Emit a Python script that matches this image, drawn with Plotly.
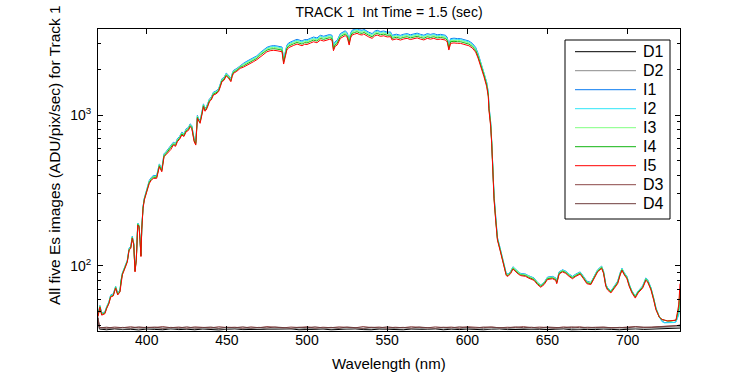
import plotly.graph_objects as go

# ---------------- data ----------------
WAVELENGTH = [
    369.6, 370.8, 371.9, 373.9, 375.0, 376.4, 377.5, 379.1, 380.6, 381.9,
    383.3, 383.9, 384.8, 386.4, 387.9, 389.0, 390.0, 391.0, 391.9, 392.7,
    393.5, 394.4, 395.2, 395.8, 396.4, 396.9, 397.7, 398.5, 399.4, 400.4,
    401.6, 402.8, 404.1, 406.2, 407.9, 409.4, 410.8, 412.0, 413.5, 415.0,
    416.6, 418.0, 419.1, 420.5, 421.9, 423.2, 424.6, 426.0, 427.1, 428.1,
    429.6, 430.6, 431.6, 432.5, 433.3, 434.4, 435.4, 436.3, 437.1, 438.2,
    439.1, 440.3, 441.6, 443.2, 444.8, 445.9, 446.9, 448.2, 449.6, 451.0,
    452.5, 453.3, 454.1, 456.2, 458.3, 460.4, 462.5, 464.5, 466.6, 468.7,
    470.8, 472.9, 475.0, 477.0, 479.2, 481.3, 483.0, 484.4, 485.4, 486.4,
    487.4, 488.5, 489.6, 491.7, 493.8, 495.3, 496.9, 498.5, 500.0, 502.0,
    504.1, 506.2, 508.3, 510.4, 512.5, 514.0, 515.6, 516.5, 517.5, 518.8,
    520.8, 522.4, 523.9, 525.2, 526.3, 527.2, 528.1, 529.6, 531.2, 532.8,
    534.4, 535.4, 536.4, 538.5, 540.6, 542.2, 543.8, 545.8, 547.9, 550.0,
    552.1, 553.1, 555.7, 558.3, 560.4, 562.5, 564.5, 566.6, 568.7, 570.8,
    572.9, 575.0, 577.0, 579.1, 581.2, 583.3, 585.0, 586.4, 587.5, 588.5,
    589.6, 591.7, 593.8, 595.8, 597.9, 599.5, 601.0, 603.1, 605.2, 606.7,
    607.9, 608.8, 610.4, 612.1, 613.1, 613.5, 614.6, 615.2, 615.8, 616.7,
    617.7, 618.8, 620.4, 621.9, 623.3, 624.3, 625.4, 627.1, 628.5, 630.2,
    631.8, 633.3, 636.4, 638.0, 639.6, 641.6, 643.8, 645.8, 647.9, 650.0,
    653.1, 655.2, 655.8, 657.3, 659.4, 661.4, 663.5, 665.6, 667.7, 670.4,
    672.5, 674.6, 677.1, 679.1, 681.3, 683.8, 685.0, 686.4, 687.5, 689.6,
    691.7, 693.8, 695.4, 696.5, 697.9, 699.6, 701.0, 702.7, 704.8, 706.6,
    709.4, 711.4, 712.5, 714.6, 716.3, 717.7, 719.8, 721.5, 723.0, 725.0,
    727.1, 729.0, 730.2, 731.9, 732.7,
]

I1 = [
    47, 54.5, 48.5, 49.5, 53.5, 57.5, 64, 65, 73, 66,
    69, 80, 89.5, 99, 109, 131, 134, 157, 141, 94,
    112, 192, 186, 152, 118, 178, 247, 281, 303, 332,
    368, 385, 397, 397, 474, 439, 553, 570, 597, 617,
    660, 648, 695, 721, 770, 752, 810, 826, 874, 853,
    695, 660, 994, 941, 921, 1045, 1186, 1108, 1128, 1202,
    1280, 1317, 1419, 1442, 1492, 1609, 1739, 1777, 1897, 1839,
    1739, 1881, 1976, 2038, 2133, 2205, 2277, 2332, 2395, 2470,
    2595, 2690, 2815, 2865, 2890, 2870, 2848, 2827, 2343, 2687,
    2903, 3007, 3053, 3118, 3180, 3139, 3100, 3171, 3158, 3225,
    3294, 3247, 3382, 3333, 3382, 3419, 3382, 2872, 3064, 3133,
    3470, 3548, 3625, 3494, 3133, 3494, 3651, 3698, 3745, 3677,
    3651, 3709, 3651, 3548, 3470, 3601, 3651, 3580, 3610, 3548,
    3559, 3382, 3440, 3382, 3440, 3470, 3408, 3470, 3494, 3431,
    3386, 3470, 3429, 3470, 3408, 3431, 3419, 3382, 3279, 2903,
    3216, 3236, 3216, 3214, 3166, 3139, 3100, 2993, 2814, 2568,
    2332, 2229, 1921, 1650, 1415, 1155, 895, 694, 486, 292,
    210, 154, 132, 113, 99.5, 89, 88, 92, 98.5, 94,
    91, 89, 88, 86, 85, 83, 77.5, 74.5, 77.5, 84,
    85, 83, 79, 91, 94, 92, 88, 85, 88, 91,
    85, 79, 77.5, 85, 94, 99.5, 92, 75.5, 71.5, 68,
    73.5, 79, 90, 96, 90, 85, 75.5, 68, 63, 68,
    73.5, 83, 81, 71.5, 61, 52.5, 46, 43, 42, 42,
    42, 42, 42.5, 48, 60,
]

I2 = [
    47, 54, 48, 49, 53, 57.5, 63.5, 64.5, 72.5, 65.5,
    68.5, 80, 89, 98.5, 108.5, 130, 133, 156, 140, 93,
    112, 191, 185, 152, 118, 177, 246, 280, 301, 329,
    364, 381, 393, 393, 470, 435, 548, 564, 591, 611,
    654, 642, 688, 714, 763, 745, 802, 818, 865, 845,
    688, 654, 984, 932, 912, 1035, 1175, 1097, 1117, 1190,
    1268, 1304, 1406, 1428, 1478, 1594, 1722, 1760, 1879, 1822,
    1722, 1863, 1957, 2018, 2112, 2184, 2255, 2310, 2372, 2447,
    2575, 2665, 2785, 2830, 2850, 2832, 2809, 2788, 2311, 2650,
    2862, 2965, 3010, 3074, 3135, 3095, 3057, 3127, 3114, 3180,
    3248, 3201, 3335, 3286, 3335, 3371, 3335, 2832, 3021, 3089,
    3422, 3498, 3574, 3445, 3089, 3445, 3600, 3646, 3693, 3625,
    3600, 3657, 3600, 3498, 3422, 3551, 3600, 3530, 3559, 3498,
    3510, 3335, 3392, 3335, 3392, 3422, 3360, 3422, 3445, 3384,
    3339, 3422, 3381, 3422, 3360, 3384, 3371, 3335, 3233, 2862,
    3172, 3191, 3172, 3169, 3122, 3095, 3057, 2951, 2775, 2532,
    2311, 2208, 1903, 1635, 1401, 1144, 886, 688, 481, 289,
    208, 153, 131, 112, 99, 88.5, 87.5, 91.5, 98, 94,
    90.5, 88.5, 87.5, 85.5, 84.5, 82.5, 77, 74, 77, 83.5,
    84.5, 82.5, 78, 90.5, 94, 91.5, 87.5, 84.5, 87.5, 90.5,
    84.5, 78, 77, 84.5, 94, 99, 91.5, 75, 71, 68,
    73, 78, 89.5, 96, 89.5, 84.5, 75, 68, 63, 68,
    73, 82.5, 80.5, 71, 60.5, 52.5, 45.5, 42.5, 41.8, 41.8,
    41.8, 42, 42.5, 47, 58,
]

I3 = [
    47, 54, 48, 49, 53, 57, 63, 64, 72.5, 65,
    68.5, 79.5, 89, 98, 108, 129.5, 132.5, 155, 140, 93,
    111, 190, 185, 151, 117, 176, 245, 278, 300, 328,
    363, 379, 391, 391, 468, 433, 545, 561, 588, 608,
    651, 639, 685, 711, 759, 742, 798, 814, 861, 840,
    685, 651, 980, 927, 907, 1030, 1169, 1092, 1111, 1185,
    1262, 1298, 1399, 1421, 1471, 1586, 1714, 1751, 1869, 1813,
    1714, 1854, 1948, 2009, 2102, 2163, 2234, 2288, 2349, 2423,
    2547, 2633, 2748, 2792, 2811, 2792, 2769, 2748, 2278, 2613,
    2822, 2923, 2968, 3031, 3091, 3051, 3014, 3083, 3070, 3135,
    3202, 3156, 3288, 3240, 3288, 3323, 3288, 2792, 2978, 3045,
    3373, 3449, 3524, 3396, 3045, 3396, 3549, 3595, 3641, 3574,
    3549, 3605, 3549, 3449, 3373, 3501, 3549, 3480, 3509, 3449,
    3460, 3288, 3344, 3288, 3344, 3373, 3313, 3373, 3396, 3336,
    3292, 3373, 3334, 3373, 3313, 3336, 3323, 3288, 3187, 2822,
    3127, 3145, 3127, 3125, 3078, 3051, 3014, 2909, 2736, 2497,
    2278, 2177, 1876, 1611, 1381, 1128, 874, 678, 474, 285,
    207, 152, 130, 112, 98.5, 88, 87, 91, 97.5, 93.5,
    90, 88, 87, 85, 84, 82, 77, 74, 77, 83,
    84, 82, 78, 90, 93, 91, 87, 84, 87, 90,
    84, 78, 77, 84, 93, 98.5, 91, 75, 70.5, 67.5,
    73, 78, 89, 95, 89, 84, 75, 67.5, 62.5, 67.5,
    72.5, 82, 80, 70.5, 60.5, 52, 46, 44, 43.5, 43,
    43, 43, 43.5, 50, 65,
]

I4 = [
    46.5, 53.5, 47.5, 48.5, 52.5, 56.5, 62.5, 63.5, 71.5, 64.5,
    67.5, 79, 88, 97, 107, 128, 131, 153.5, 138.5, 92,
    110, 188, 183, 149, 116, 175, 242, 276, 297, 323,
    357, 374, 386, 386, 461, 426, 537, 553, 580, 599,
    641, 629, 675, 700, 748, 731, 787, 802, 849, 828,
    675, 641, 965, 914, 894, 1015, 1152, 1076, 1095, 1167,
    1243, 1279, 1378, 1401, 1449, 1563, 1689, 1726, 1842, 1786,
    1689, 1827, 1919, 1979, 2072, 2122, 2191, 2244, 2304, 2377,
    2498, 2583, 2696, 2739, 2757, 2739, 2716, 2696, 2235, 2563,
    2768, 2867, 2911, 2973, 3032, 2993, 2956, 3024, 3011, 3075,
    3141, 3096, 3225, 3178, 3225, 3260, 3225, 2739, 2921, 2987,
    3309, 3383, 3456, 3331, 2987, 3331, 3481, 3526, 3571, 3506,
    3481, 3536, 3481, 3383, 3309, 3434, 3481, 3413, 3442, 3383,
    3394, 3225, 3280, 3225, 3280, 3309, 3249, 3309, 3331, 3272,
    3229, 3309, 3270, 3309, 3249, 3272, 3260, 3225, 3126, 2768,
    3067, 3085, 3067, 3065, 3019, 2993, 2956, 2854, 2683, 2449,
    2235, 2135, 1840, 1581, 1355, 1106, 857, 665, 465, 280,
    204, 150, 128.5, 110, 97, 87, 86, 90, 96, 92,
    89, 87, 86, 84, 83, 81, 76, 73, 76, 82,
    83, 81, 77, 89, 92, 90, 86, 83, 86, 89,
    83, 77, 76, 83, 92, 97, 90, 74, 70, 67,
    72, 77, 88, 94, 88, 83, 74, 67, 62, 67,
    72, 81, 79, 70, 60, 51.5, 45.5, 44, 43.5, 43,
    43, 43.5, 43.5, 52, 70,
]

I5 = [
    46, 53, 47, 48, 52, 56, 62, 63, 71, 64,
    67, 78, 87, 96, 106, 127, 130, 152, 137, 91,
    109, 186, 181, 148, 115, 173, 240, 273, 294, 318,
    352, 368, 380, 380, 454, 420, 529, 545, 571, 590,
    632, 620, 665, 690, 737, 720, 775, 790, 836, 816,
    665, 632, 951, 900, 881, 1000, 1135, 1060, 1079, 1150,
    1225, 1260, 1358, 1380, 1428, 1540, 1664, 1700, 1815, 1760,
    1664, 1800, 1891, 1950, 2041, 2080, 2148, 2200, 2259, 2330,
    2437, 2520, 2630, 2672, 2690, 2672, 2650, 2630, 2180, 2500,
    2700, 2797, 2840, 2900, 2958, 2920, 2884, 2950, 2938, 3000,
    3064, 3020, 3146, 3100, 3146, 3180, 3146, 2672, 2850, 2914,
    3228, 3300, 3372, 3250, 2914, 3250, 3396, 3440, 3484, 3420,
    3396, 3450, 3396, 3300, 3228, 3350, 3396, 3330, 3358, 3300,
    3311, 3146, 3200, 3146, 3200, 3228, 3170, 3228, 3250, 3192,
    3150, 3228, 3190, 3228, 3170, 3192, 3180, 3146, 3050, 2700,
    2992, 3010, 2992, 2990, 2945, 2920, 2884, 2784, 2618, 2389,
    2180, 2083, 1795, 1542, 1322, 1079, 836, 649, 454, 273,
    201, 148, 127, 109, 96, 86, 85, 89, 95, 91,
    88, 86, 85, 83, 82, 80, 75, 72, 75, 81,
    82, 80, 76, 88, 91, 89, 85, 82, 85, 88,
    82, 76, 75, 82, 91, 96, 89, 73, 69, 66,
    71, 76, 87, 93, 87, 82, 73, 66, 61, 66,
    71, 80, 78, 69, 59, 51, 45.5, 44, 43.6, 43,
    43.2, 43.5, 43.6, 55, 76,
]

DARK_WAVELENGTH = [
    369.6, 370.5, 375, 380, 385, 390, 395, 400, 405, 410,
    415, 420, 425, 430, 435, 440, 445, 450, 455, 460,
    465, 470, 475, 480, 485, 490, 495, 500, 505, 510,
    515, 520, 525, 530, 535, 540, 545, 550, 555, 560,
    565, 570, 575, 580, 585, 590, 595, 600, 605, 610,
    615, 620, 625, 630, 635, 640, 645, 650, 655, 660,
    665, 670, 675, 680, 685, 690, 695, 700, 705, 710,
    715, 720, 725, 730, 732.7,
]

D1 = [
    44, 38.0, 37.6, 38.1, 37.7, 37.9, 37.5, 38.0, 37.8, 37.6,
    38.1, 37.7, 37.9, 37.6, 38.0, 37.8, 37.5, 37.9, 38.1, 37.7,
    37.8, 37.6, 38.0, 37.7, 37.9, 38.1, 37.6, 37.8, 37.7, 38.0,
    37.6, 37.9, 37.8, 38.1, 37.7, 37.6, 38.0, 37.8, 37.9, 37.6,
    38.0, 37.7, 37.8, 38.1, 37.6, 37.9, 37.7, 38.0, 37.8, 37.6,
    37.9, 38.1, 37.7, 37.8, 37.6, 38.0, 37.9, 37.7, 37.8, 38.1,
    37.6, 37.9, 37.8, 37.7, 38.0, 37.8, 37.6, 37.9, 38.1, 37.8,
    37.9, 38.0, 38.2, 38.4, 38.6,
]

D2 = [
    46, 38.6, 38.2, 38.5, 38.0, 38.4, 38.7, 38.1, 38.3, 38.6,
    38.0, 38.4, 38.2, 38.7, 38.1, 38.5, 38.3, 38.0, 38.6, 38.2,
    38.4, 38.7, 38.1, 38.3, 38.5, 38.0, 38.6, 38.2, 38.4, 38.1,
    38.7, 38.3, 38.0, 38.5, 38.2, 38.6, 38.3, 38.1, 38.4, 38.7,
    38.2, 38.5, 38.0, 38.3, 38.6, 38.1, 38.4, 38.2, 38.7, 38.3,
    38.0, 38.5, 38.2, 38.6, 38.3, 38.1, 38.4, 38.7, 38.2, 38.5,
    38.3, 38.0, 38.6, 38.4, 38.2, 38.5, 38.7, 38.3, 38.4, 38.6,
    38.5, 38.8, 39.0, 39.2, 39.5,
]

D3 = [
    45, 39.0, 38.6, 39.2, 38.8, 39.4, 38.7, 39.1, 38.9, 39.5,
    38.8, 39.2, 38.6, 39.3, 39.0, 38.7, 39.4, 38.9, 39.1, 38.6,
    39.3, 38.8, 39.5, 39.0, 38.7, 39.2, 38.9, 39.4, 38.6, 39.1,
    38.8, 39.3, 39.0, 38.7, 39.5, 38.9, 39.2, 38.6, 39.1, 38.8,
    39.4, 39.0, 38.7, 39.3, 38.9, 39.2, 38.6, 39.4, 39.0, 38.8,
    39.3, 38.7, 39.1, 38.9, 39.5, 38.8, 39.2, 39.0, 38.6, 39.3,
    38.9, 39.4, 38.7, 39.1, 39.0, 39.3, 38.8, 39.2, 39.5, 38.9,
    39.2, 39.5, 39.6, 39.8, 40.2,
]

D4 = [
    45, 38.7, 39.1, 38.5, 39.0, 38.6, 39.3, 38.8, 39.2, 38.5,
    39.0, 38.7, 39.3, 38.6, 38.9, 39.2, 38.5, 39.1, 38.8, 39.3,
    38.6, 39.0, 38.7, 39.2, 38.9, 38.5, 39.1, 38.8, 39.3, 38.7,
    39.0, 38.6, 39.2, 38.9, 38.5, 39.1, 38.7, 39.3, 38.8, 39.0,
    38.6, 39.2, 38.9, 38.5, 39.1, 38.7, 39.3, 38.8, 38.6, 39.2,
    38.9, 39.0, 38.7, 39.3, 38.8, 39.1, 38.6, 39.2, 39.0, 38.7,
    39.3, 38.8, 39.1, 38.9, 39.2, 38.7, 39.0, 38.8, 39.3, 39.1,
    39.0, 39.4, 39.6, 39.9, 40.4,
]

SERIES = [
    ("D1", DARK_WAVELENGTH, D1, "#000000"),
    ("D2", DARK_WAVELENGTH, D2, "#8c8c8c"),
    ("I1", WAVELENGTH, I1, "#0a7cf0"),
    ("I2", WAVELENGTH, I2, "#2ee6f8"),
    ("I3", WAVELENGTH, I3, "#80ff80"),
    ("I4", WAVELENGTH, I4, "#12b412"),
    ("I5", WAVELENGTH, I5, "#ff0000"),
    ("D3", DARK_WAVELENGTH, D3, "#8c4848"),
    ("D4", DARK_WAVELENGTH, D4, "#6e3c3c"),
]

for name, xs, ys, _ in SERIES:
    if len(xs) != len(ys):
        raise ValueError(f"{name}: {len(xs)} x vs {len(ys)} y")

Y_TICKS = [100, 1000]
Y_TICK_TEXT = ["10<sup>2</sup>", "10<sup>3</sup>"]
Y_MINOR = [40, 50, 60, 70, 80, 90, 200, 300, 400, 500, 600, 700, 800, 900, 2000, 3000]
X_TICKS = [400, 450, 500, 550, 600, 650, 700]

# ---------------- figure ----------------
FONT = "Liberation Sans, Arial, sans-serif"
W, H = 750, 375
L, R, T, B = 98, 70, 29, 44
pw, ph = W - L - R, H - T - B


def px(xp):
    return (xp - L) / pw


def py(yp):
    return (H - B - yp) / ph


fig = go.Figure()
for name, xs, ys, color in SERIES:
    fig.add_trace(go.Scatter(x=xs, y=ys, mode="lines", name=name,
                             line=dict(color=color, width=1)))

fig.update_layout(
    width=W, height=H,
    margin=dict(l=L, r=R, t=T, b=B, autoexpand=False),
    paper_bgcolor="white", plot_bgcolor="white",
    font=dict(family=FONT, size=14, color="black"),
    title=dict(text="TRACK 1  Int Time = 1.5 (sec)", x=(L + pw / 2) / W, xanchor="center",
               y=1 - 12 / H, yanchor="middle", font=dict(size=14)),
    showlegend=False,
)

fig.update_xaxes(
    range=[369.6, 732.7], showgrid=False, zeroline=False, automargin=False,
    showline=True, linecolor="black", linewidth=1, mirror="ticks",
    ticks="inside", ticklen=5, tickcolor="black",
    tickvals=X_TICKS, ticklabelstandoff=-4,
)
fig.update_yaxes(
    type="log", range=[1.567, 3.571], showgrid=False, zeroline=False, automargin=False,
    showline=True, linecolor="black", linewidth=1, mirror="ticks",
    ticks="inside", ticklen=5, tickcolor="black",
    tickvals=Y_TICKS, ticktext=Y_TICK_TEXT, ticklabelstandoff=3,
    minor=dict(tickvals=Y_MINOR, ticks="inside", ticklen=3, tickcolor="black", showgrid=False),
)

# axis titles
fig.add_annotation(
    text="Wavelength (nm)", xref="paper", yref="paper", x=px(389), y=py(363),
    xanchor="center", yanchor="middle", showarrow=False, font=dict(size=15),
)
fig.add_annotation(
    text="All five Es images (ADU/pix/sec) for Track 1", textangle=-90,
    xref="paper", yref="paper", x=px(54), y=py(155),
    xanchor="center", yanchor="middle", showarrow=False, font=dict(size=15.5),
)

# legend box drawn like the original figure's legend
LEG_X0, LEG_X1, LEG_Y0, LEG_Y1 = 565, 670, 40, 219
ROW0, ROW_STEP = 51.7, 19.0
fig.add_shape(type="rect", xref="paper", yref="paper",
              x0=px(LEG_X0), x1=px(LEG_X1), y0=py(LEG_Y1), y1=py(LEG_Y0),
              line=dict(color="black", width=1), fillcolor="white", layer="above")
for i, (name, _, _, color) in enumerate(SERIES):
    yrow = ROW0 + ROW_STEP * i
    fig.add_shape(type="line", xref="paper", yref="paper",
                  x0=px(575), x1=px(636), y0=py(yrow), y1=py(yrow),
                  line=dict(color=color, width=1), layer="above")
    fig.add_annotation(text=name, xref="paper", yref="paper", x=px(641), y=py(yrow),
                       xanchor="left", yanchor="middle", showarrow=False,
                       font=dict(size=16))

fig.write_html("out.html", config={"displayModeBar": False},
               post_script="document.body.style.margin='0';document.body.style.overflow='hidden';")
